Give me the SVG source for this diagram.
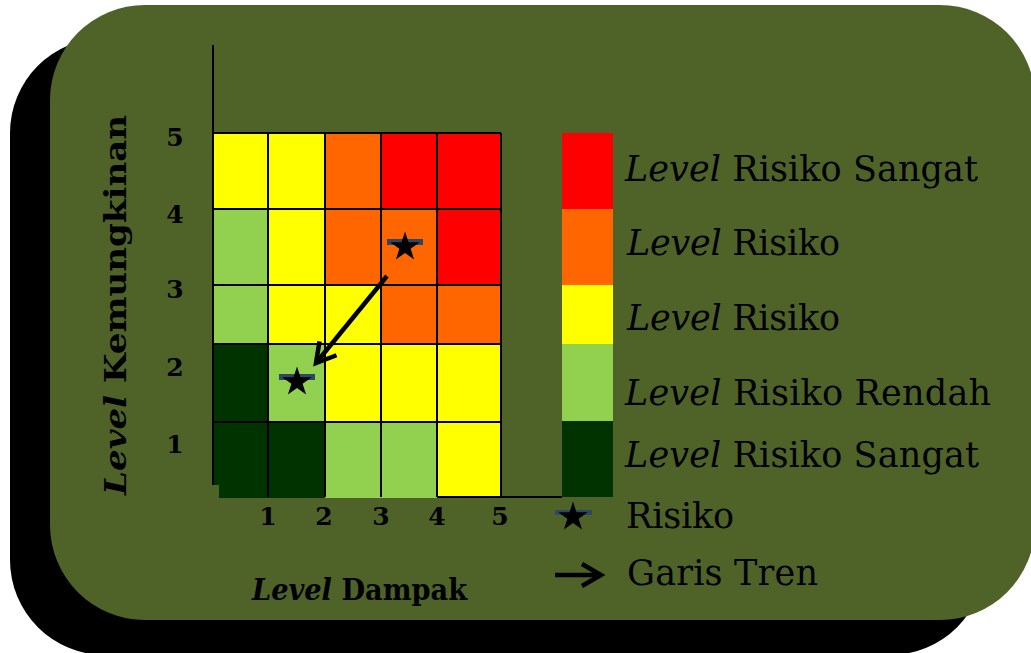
<svg xmlns="http://www.w3.org/2000/svg" xmlns:xlink="http://www.w3.org/1999/xlink" width="1031" height="653" viewBox="0 0 1031 653">
<style>
.y{fill:#FFFF00}.o{fill:#FF6600}.r{fill:#FF0000}.lg{fill:#92D050}.dg{fill:#003300}
.grid{stroke:#000;stroke-width:2;fill:none}
.num{font-family:"DejaVu Serif",serif;font-weight:bold;font-size:25px;fill:#000;text-anchor:middle}
.ax{font-family:"DejaVu Serif",serif;font-weight:bold;font-size:29px;fill:#000}
.lt{font-family:"DejaVu Serif",serif;font-size:35px;fill:#000}
.bar{fill:#2B4868}
.arrow{stroke:#000;stroke-width:4.5;fill:none}
</style>
<defs>
<path id="star" d="M0,-15.5 L3.47,-4.77 L14.74,-4.79 L5.61,1.82 L9.11,12.54 L0,5.9 L-9.11,12.54 L-5.61,1.82 L-14.74,-4.79 L-3.47,-4.77 Z" fill="#000"/>
<marker id="chev" markerUnits="userSpaceOnUse" orient="auto" refX="0" refY="0" viewBox="-26 -16 32 32" markerWidth="32" markerHeight="32" overflow="visible">
<path d="M-19,-11 L0,0 L-19,11" fill="none" stroke="#000" stroke-width="4.5"/>
</marker>
</defs>
<g id="background">
<rect x="10" y="38" width="975" height="617" rx="95" ry="95" fill="#000"/>
<rect x="50" y="5" width="985" height="615" rx="95" ry="95" fill="#4F6228"/>
</g>
<g id="matrix">
<rect class="y" x="213" y="133" width="55" height="76"/>
<rect class="y" x="268" y="133" width="57" height="76"/>
<rect class="o" x="325" y="133" width="56" height="76"/>
<rect class="r" x="381" y="133" width="56" height="76"/>
<rect class="r" x="437" y="133" width="64" height="76"/>
<rect class="lg" x="213" y="209" width="55" height="76"/>
<rect class="y" x="268" y="209" width="57" height="76"/>
<rect class="o" x="325" y="209" width="56" height="76"/>
<rect class="o" x="381" y="209" width="56" height="76"/>
<rect class="r" x="437" y="209" width="64" height="76"/>
<rect class="lg" x="213" y="285" width="55" height="59"/>
<rect class="y" x="268" y="285" width="57" height="59"/>
<rect class="y" x="325" y="285" width="56" height="59"/>
<rect class="o" x="381" y="285" width="56" height="59"/>
<rect class="o" x="437" y="285" width="64" height="59"/>
<rect class="dg" x="213" y="344" width="55" height="78"/>
<rect class="lg" x="268" y="344" width="57" height="78"/>
<rect class="y" x="325" y="344" width="56" height="78"/>
<rect class="y" x="381" y="344" width="56" height="78"/>
<rect class="y" x="437" y="344" width="64" height="78"/>
<rect class="dg" x="213" y="422" width="55" height="63"/>
<rect class="dg" x="219" y="422" width="49" height="76"/>
<rect class="dg" x="268" y="422" width="57" height="76"/>
<rect class="lg" x="325" y="422" width="56" height="76"/>
<rect class="lg" x="381" y="422" width="56" height="76"/>
<rect class="y" x="437" y="422" width="64" height="75"/>
<path class="grid" d="M213,133H501 M213,209H501 M213,285H501 M213,344H501 M213,422H501 M268,133V497 M325,133V497 M381,133V497 M437,133V497 M501,133V497 M437,497H562"/>
<path class="grid" d="M213,45V485"/>
</g>
<g id="axis-labels">
<text class="num" x="175" y="146">5</text>
<text class="num" x="175" y="223">4</text>
<text class="num" x="175" y="298">3</text>
<text class="num" x="175" y="376">2</text>
<text class="num" x="175" y="453">1</text>
<text class="num" x="268" y="525">1</text>
<text class="num" x="324" y="525">2</text>
<text class="num" x="381" y="525">3</text>
<text class="num" x="437" y="525">4</text>
<text class="num" x="500" y="525">5</text>
<text class="ax" transform="translate(126,495) rotate(-90)" textLength="380" lengthAdjust="spacingAndGlyphs"><tspan font-style="italic">Level</tspan> Kemungkinan</text>
<text class="ax" x="252" y="600" textLength="215" lengthAdjust="spacingAndGlyphs"><tspan font-style="italic">Level</tspan> Dampak</text>
</g>
<g id="risk-1">
<rect class="bar" x="387" y="239" width="36" height="6"/>
<use xlink:href="#star" href="#star" transform="translate(405,247)"/>
</g>
<g id="risk-2">
<rect class="bar" x="279" y="374" width="36" height="6"/>
<use xlink:href="#star" href="#star" transform="translate(297,382)"/>
</g>
<g id="connectors">
<path class="arrow" d="M387,276 L316,363" marker-end="url(#chev)"/>
</g>
<g id="legend">
<rect class="r" x="562" y="133" width="51" height="76"/>
<rect class="o" x="562" y="209" width="51" height="76"/>
<rect class="y" x="562" y="285" width="51" height="59"/>
<rect class="lg" x="562" y="344" width="51" height="77"/>
<rect class="dg" x="562" y="421" width="51" height="76"/>
<text class="lt" x="625" y="181" textLength="353"><tspan font-style="italic">Level</tspan> Risiko Sangat</text>
<text class="lt" x="627" y="255" textLength="213"><tspan font-style="italic">Level</tspan> Risiko</text>
<text class="lt" x="627" y="330" textLength="213"><tspan font-style="italic">Level</tspan> Risiko</text>
<text class="lt" x="625" y="405" textLength="366"><tspan font-style="italic">Level</tspan> Risiko Rendah</text>
<text class="lt" x="625" y="467" textLength="354"><tspan font-style="italic">Level</tspan> Risiko Sangat</text>
<g id="legend-risk">
<rect class="bar" x="555" y="510" width="37" height="5"/>
<use xlink:href="#star" href="#star" transform="translate(573,517)"/>
<text class="lt" x="626" y="528" textLength="108">Risiko</text>
</g>
<g id="legend-trend">
<path class="arrow" d="M555,575 L601,575" marker-end="url(#chev)"/>
<text class="lt" x="627" y="585" textLength="191">Garis Tren</text>
</g>
</g>
</svg>
